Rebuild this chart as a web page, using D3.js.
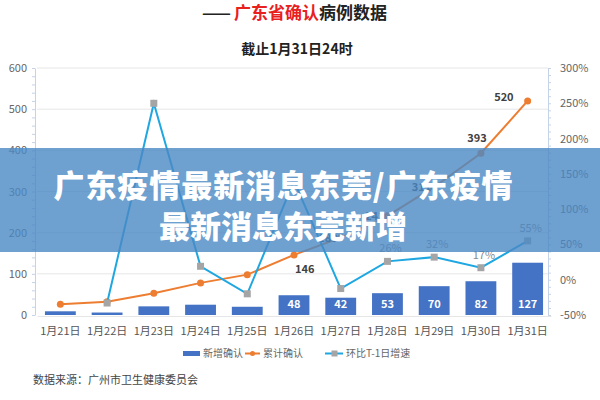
<!DOCTYPE html>
<html>
<head>
<meta charset="utf-8">
<script src="https://cdn.jsdelivr.net/npm/d3@7"></script>
<style>
html,body{margin:0;padding:0;background:#fff;}
svg{display:block;font-family:"Microsoft YaHei","Noto Sans CJK SC",sans-serif;}
</style>
</head>
<body>
<svg id="c" width="600" height="400"></svg>
<script>
const categories = ["1月21日","1月22日","1月23日","1月24日","1月25日","1月26日","1月27日","1月28日","1月29日","1月30日","1月31日"];
const newCases = [9, 6, 21, 25, 20, 48, 42, 53, 70, 82, 127];
const cumulative = [26, 32, 53, 78, 98, 146, 188, 241, 311, 393, 520];
const growthPct = [null, -33, 250, 19, -20, 140, -12.5, 26, 32, 17, 55];
const leftTicks = [0, 100, 200, 300, 400, 500, 600];
const rightTicks = [-50, 0, 50, 100, 150, 200, 250, 300];
const barLabelFrom = 5;
const cumLabelFrom = 5;
const pctLabelFrom = 7;
const legendNames = ["新增确认", "累计确认", "环比T-1日增速"];

const svg = d3.select("#c");
const x = d3.scaleBand().domain(categories).range([37, 551]).paddingInner(0.34).paddingOuter(0.17);
const yL = d3.scaleLinear().domain([0, 600]).range([315, 68]);
const yR = d3.scaleLinear().domain([-50, 300]).range([315, 68]);
const cx = d => x(d) + x.bandwidth() / 2;

const BLUE = "#4472c4", ORANGE = "#ed7d31", LBLUE = "#1fa7e1", GREY = "#a5a5a5";

// title
const t = svg.append("text").attr("x", 202).attr("y", 19).attr("font-size", 17).attr("font-weight", "bold");
t.append("tspan").attr("fill", "#222").text("——");
t.append("tspan").attr("fill", "#e8201e").attr("dx", 3).text("广东省确认");
t.append("tspan").attr("fill", "#222").text("病例数据");
svg.append("text").attr("x", 297).attr("y", 54).attr("text-anchor", "middle")
  .attr("font-size", 14).attr("font-weight", "bold").attr("fill", "#222").text("截止1月31日24时");

// gridlines
svg.append("g").selectAll("line").data(leftTicks.slice(1)).join("line")
  .attr("x1", 37).attr("x2", 548).attr("y1", d => yL(d)).attr("y2", d => yL(d))
  .attr("stroke", "#e6e6e6").attr("stroke-width", 1);

// left axis
const la = svg.append("g").attr("transform", "translate(35,0)")
  .call(d3.axisLeft(yL).tickValues(leftTicks).tickSize(0).tickPadding(8));
la.select(".domain").attr("stroke", "#c5d3e8");
la.selectAll("text").attr("fill", "#666").attr("font-size", 11).attr("font-family", "'Microsoft YaHei','Noto Sans CJK SC',sans-serif");
la.append("g").selectAll("line").data(d3.range(0, 601, 20)).join("line")
  .attr("x1", -3).attr("x2", 0).attr("y1", d => yL(d) + 0.5).attr("y2", d => yL(d) + 0.5).attr("stroke", "#c5d3e8");

// right axis
const ra = svg.append("g").attr("transform", "translate(548,0)")
  .call(d3.axisRight(yR).tickValues(rightTicks).tickSize(0).tickPadding(12).tickFormat(d => d + "%"));
ra.select(".domain").attr("stroke", "#c5d3e8");
ra.selectAll("text").attr("fill", "#666").attr("font-size", 11).attr("font-family", "'Microsoft YaHei','Noto Sans CJK SC',sans-serif");
ra.append("g").selectAll("line").data(d3.range(-50, 301, 10)).join("line")
  .attr("x1", 0).attr("x2", 3).attr("y1", d => yR(d) + 0.5).attr("y2", d => yR(d) + 0.5).attr("stroke", "#c5d3e8");

// x axis
const xa = svg.append("g").attr("transform", "translate(0,316)")
  .call(d3.axisBottom(x).tickSize(0).tickPadding(11));
xa.select(".domain").attr("stroke", "#e6e6e6");
xa.selectAll("text").attr("fill", "#555").attr("font-size", 11).attr("font-family", "'Microsoft YaHei','Noto Sans CJK SC',sans-serif");

// bars
svg.append("g").selectAll("rect").data(newCases).join("rect")
  .attr("x", (d, i) => x(categories[i])).attr("width", x.bandwidth())
  .attr("y", d => yL(d)).attr("height", d => yL(0) - yL(d)).attr("fill", BLUE);
svg.append("g").selectAll("text").data(newCases.slice(barLabelFrom)).join("text")
  .attr("x", (d, i) => cx(categories[i + barLabelFrom])).attr("y", 308)
  .attr("text-anchor", "middle").attr("fill", "#fff").attr("font-size", 11).attr("font-weight", "bold").text(d => d);

// cumulative line
svg.append("path").datum(cumulative)
  .attr("d", d3.line().x((d, i) => cx(categories[i])).y(d => yL(d)))
  .attr("fill", "none").attr("stroke", ORANGE).attr("stroke-width", 2);
svg.append("g").selectAll("circle").data(cumulative).join("circle")
  .attr("cx", (d, i) => cx(categories[i])).attr("cy", d => yL(d)).attr("r", 3.5).attr("fill", ORANGE);
// label placement per point (style only): below, left, left, left, above-left, left
const cumPlace = [
  { dx: 1, dy: 18, a: "start" },
  { dx: -3, dy: 4, a: "end" },
  { dx: -3, dy: 4, a: "end" },
  { dx: -3, dy: 4, a: "end" },
  { dx: -4, dy: -11, a: "middle" },
  { dx: -14, dy: 0, a: "end" }
];
svg.append("g").selectAll("text").data(cumulative.slice(cumLabelFrom)).join("text")
  .attr("x", (d, i) => cx(categories[i + cumLabelFrom]) + cumPlace[i].dx)
  .attr("y", (d, i) => yL(d) + cumPlace[i].dy)
  .attr("text-anchor", (d, i) => cumPlace[i].a)
  .attr("fill", "#404040").attr("font-size", 11).attr("font-weight", "bold").text(d => d);

// growth line
const gData = growthPct.map((v, i) => ({ v, c: categories[i] })).filter(d => d.v !== null);
svg.append("path").datum(gData)
  .attr("d", d3.line().x(d => cx(d.c)).y(d => yR(d.v)))
  .attr("fill", "none").attr("stroke", LBLUE).attr("stroke-width", 2);
svg.append("g").selectAll("rect").data(gData).join("rect")
  .attr("x", d => cx(d.c) - 3.5).attr("y", d => yR(d.v) - 3.5).attr("width", 7).attr("height", 7).attr("fill", GREY);
svg.append("g").selectAll("text").data(gData.filter(d => categories.indexOf(d.c) >= pctLabelFrom)).join("text")
  .attr("x", d => cx(d.c) + 3).attr("y", d => yR(d.v) - 9)
  .attr("text-anchor", "middle").attr("fill", "#8a8a8a").attr("font-size", 11).text(d => Math.round(d.v) + "%");

// legend
const lg = svg.append("g").attr("font-size", 10).attr("fill", "#666");
lg.append("rect").attr("x", 183).attr("y", 351).attr("width", 17).attr("height", 5).attr("fill", BLUE);
lg.append("text").attr("x", 203).attr("y", 357).text(legendNames[0]);
lg.append("line").attr("x1", 245).attr("x2", 260).attr("y1", 353.5).attr("y2", 353.5).attr("stroke", ORANGE).attr("stroke-width", 2);
lg.append("circle").attr("cx", 252.5).attr("cy", 353.5).attr("r", 2.5).attr("fill", ORANGE);
lg.append("text").attr("x", 263).attr("y", 357).text(legendNames[1]);
lg.append("line").attr("x1", 325).attr("x2", 343).attr("y1", 353.5).attr("y2", 353.5).attr("stroke", LBLUE).attr("stroke-width", 2);
lg.append("rect").attr("x", 331.5).attr("y", 350.5).attr("width", 6).attr("height", 6).attr("fill", GREY);
lg.append("text").attr("x", 346).attr("y", 357).text(legendNames[2]);

// source
svg.append("text").attr("x", 33).attr("y", 384).attr("font-size", 11).attr("fill", "#444").text("数据来源：广州市卫生健康委员会");

// overlay band
svg.append("rect").attr("x", 0).attr("y", 148).attr("width", 600).attr("height", 104).attr("fill", "rgba(74,136,196,0.8)");
const ov = svg.append("g").attr("fill", "#fff").attr("font-weight", "900").attr("font-size", 31).attr("text-anchor", "middle")
  .attr("font-family", "'Noto Sans CJK SC',sans-serif");
ov.append("text").attr("x", 283).attr("y", 197).attr("textLength", 459).attr("lengthAdjust", "spacing")
  .text("广东疫情最新消息东莞/广东疫情");
ov.append("text").attr("x", 283).attr("y", 238).text("最新消息东莞新增");
</script>
</body>
</html>
